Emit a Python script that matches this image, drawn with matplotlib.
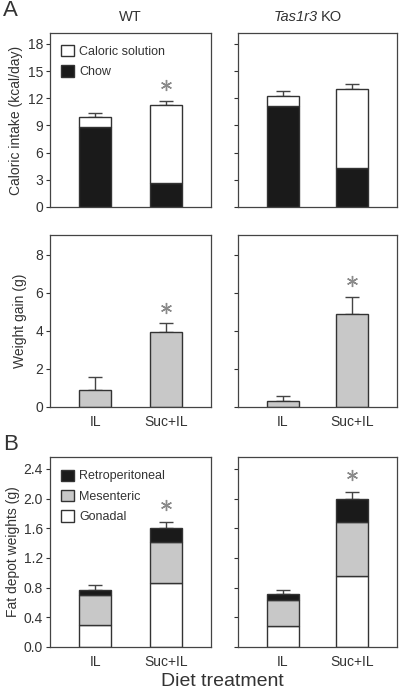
import matplotlib
matplotlib.use("Agg")
import matplotlib.pyplot as plt
from matplotlib.patches import Patch

plt.rcParams['font.family'] = ['Liberation Sans', 'DejaVu Sans']
plt.rcParams['text.color'] = '#333333'
plt.rcParams['axes.labelcolor'] = '#333333'
plt.rcParams['xtick.color'] = '#333333'
plt.rcParams['ytick.color'] = '#333333'

groups = ["IL", "Suc+IL"]

# caloric intake (kcal/day)
wt_chow = [8.8, 2.7]
wt_solution = [1.1, 8.6]
wt_intake_err = [0.45, 0.4]
ko_chow = [11.2, 4.25]
ko_solution = [1.05, 8.8]
ko_intake_err = [0.55, 0.5]

# weight gain (g)
wt_gain = [0.9, 3.95]
wt_gain_err = [0.68, 0.47]
ko_gain = [0.3, 4.9]
ko_gain_err = [0.26, 0.9]

# fat depots (g)
wt_gonadal = [0.29, 0.86]
wt_mesenteric = [0.41, 0.56]
wt_retro = [0.07, 0.19]
wt_fat_err = [0.06, 0.07]
ko_gonadal = [0.28, 0.95]
ko_mesenteric = [0.36, 0.74]
ko_retro = [0.08, 0.31]
ko_fat_err = [0.05, 0.09]

# bars marked with an asterisk, per panel (row, col)
sig = {(0, 0): [1], (0, 1): [], (1, 0): [1], (1, 1): [1], (2, 0): [1], (2, 1): [1]}

edge = '#333333'
grey = '#c8c8c8'
black = '#1a1a1a'
star_col = '#8a8a8a'

fig = plt.figure(figsize=(4, 6.93), dpi=100)

def px_rect(l, t, r, b):
    return [l / 400, 1 - b / 693, (r - l) / 400, (b - t) / 693]

cols = [(50, 211), (238, 397)]
rows = [(33, 207), (235, 407), (457, 647)]
axes = [[fig.add_axes(px_rect(c[0], r[0], c[1], r[1])) for c in cols] for r in rows]

x = [0, 1]
w = 0.46

def stacked(ax, layers, colors, err, ylim, marks):
    bottom = [0, 0]
    for vals, col in zip(layers, colors):
        ax.bar(x, vals, w, bottom=bottom, color=col, edgecolor=edge, linewidth=1, zorder=2)
        bottom = [b + v for b, v in zip(bottom, vals)]
    ax.errorbar(x, bottom, yerr=[[0, 0], err], fmt='none', ecolor='#444444',
                elinewidth=1, capsize=5, capthick=1, zorder=1)
    for i in marks:
        ax.plot(x[i], bottom[i] + err[i] + 0.09 * ylim, marker=(6, 2, 0), ms=8,
                color=star_col, mew=1, linestyle='none')

def style(ax, ylim, ticks, labels, show_y, show_x):
    ax.set_xlim(-0.64, 1.64)
    ax.set_ylim(0, ylim)
    ax.set_yticks(ticks)
    if show_y:
        ax.set_yticklabels(labels, fontsize=10)
    else:
        ax.set_yticklabels([])
    ax.set_xticks(x)
    if show_x:
        ax.set_xticklabels(groups, fontsize=10)
    else:
        ax.set_xticklabels([])
    ax.tick_params(axis='x', length=0, pad=6)
    ax.tick_params(axis='y', direction='out', length=3, width=0.8, pad=2)
    for s in ax.spines.values():
        s.set_color('#444444')
        s.set_linewidth(0.9)

# row 1: caloric intake
for j, (chow, sol, err) in enumerate([(wt_chow, wt_solution, wt_intake_err),
                                      (ko_chow, ko_solution, ko_intake_err)]):
    ax = axes[0][j]
    stacked(ax, [chow, sol], [black, 'white'], err, 19.2, sig[(0, j)])
    style(ax, 19.2, range(0, 19, 3), [str(t) for t in range(0, 19, 3)], j == 0, False)
axes[0][0].set_ylabel("Caloric intake (kcal/day)", fontsize=10, labelpad=3)
axes[0][0].legend(handles=[Patch(facecolor='white', edgecolor=edge, label='Caloric solution'),
                           Patch(facecolor=black, edgecolor=edge, label='Chow')],
                  loc='upper left', frameon=False, fontsize=9, handlelength=1.0,
                  handleheight=1.0, handletextpad=0.4, labelspacing=0.6,
                  bbox_to_anchor=(0.04, 0.96), borderaxespad=0)

# row 2: weight gain
for j, (vals, err) in enumerate([(wt_gain, wt_gain_err), (ko_gain, ko_gain_err)]):
    ax = axes[1][j]
    stacked(ax, [vals], [grey], err, 9.05, sig[(1, j)])
    style(ax, 9.05, range(0, 9, 2), [str(t) for t in range(0, 9, 2)], j == 0, True)
axes[1][0].set_ylabel("Weight gain (g)", fontsize=10, labelpad=6)

# row 3: fat depots
fat_ticks = [0.0, 0.4, 0.8, 1.2, 1.6, 2.0, 2.4]
for j, (g, m, r, err) in enumerate([(wt_gonadal, wt_mesenteric, wt_retro, wt_fat_err),
                                    (ko_gonadal, ko_mesenteric, ko_retro, ko_fat_err)]):
    ax = axes[2][j]
    stacked(ax, [g, m, r], ['white', grey, black], err, 2.56, sig[(2, j)])
    style(ax, 2.56, fat_ticks, ["%.1f" % t for t in fat_ticks], j == 0, True)
axes[2][0].set_ylabel("Fat depot weights (g)", fontsize=10, labelpad=3)
axes[2][0].legend(handles=[Patch(facecolor=black, edgecolor=edge, label='Retroperitoneal'),
                           Patch(facecolor=grey, edgecolor=edge, label='Mesenteric'),
                           Patch(facecolor='white', edgecolor=edge, label='Gonadal')],
                  loc='upper left', frameon=False, fontsize=9, handlelength=1.0,
                  handleheight=1.0, handletextpad=0.4, labelspacing=0.6,
                  bbox_to_anchor=(0.04, 0.96), borderaxespad=0)

fig.text(130 / 400, 1 - 17 / 693, "WT", ha='center', va='center', fontsize=10.5)
fig.text(318 / 400, 1 - 17 / 693, "Tas1r3", style='italic', ha='right', va='center', fontsize=10.5)
fig.text(321 / 400, 1 - 17 / 693, "KO", ha='left', va='center', fontsize=10.5)
fig.text(3 / 400, 1 - 11 / 693, "A", ha='left', va='center', fontsize=16)
fig.text(3 / 400, 1 - 444 / 693, "B", ha='left', va='center', fontsize=16)
fig.text(222 / 400, 1 - 681 / 693, "Diet treatment", ha='center', va='center', fontsize=14)

fig.savefig("out.png", dpi=100)
